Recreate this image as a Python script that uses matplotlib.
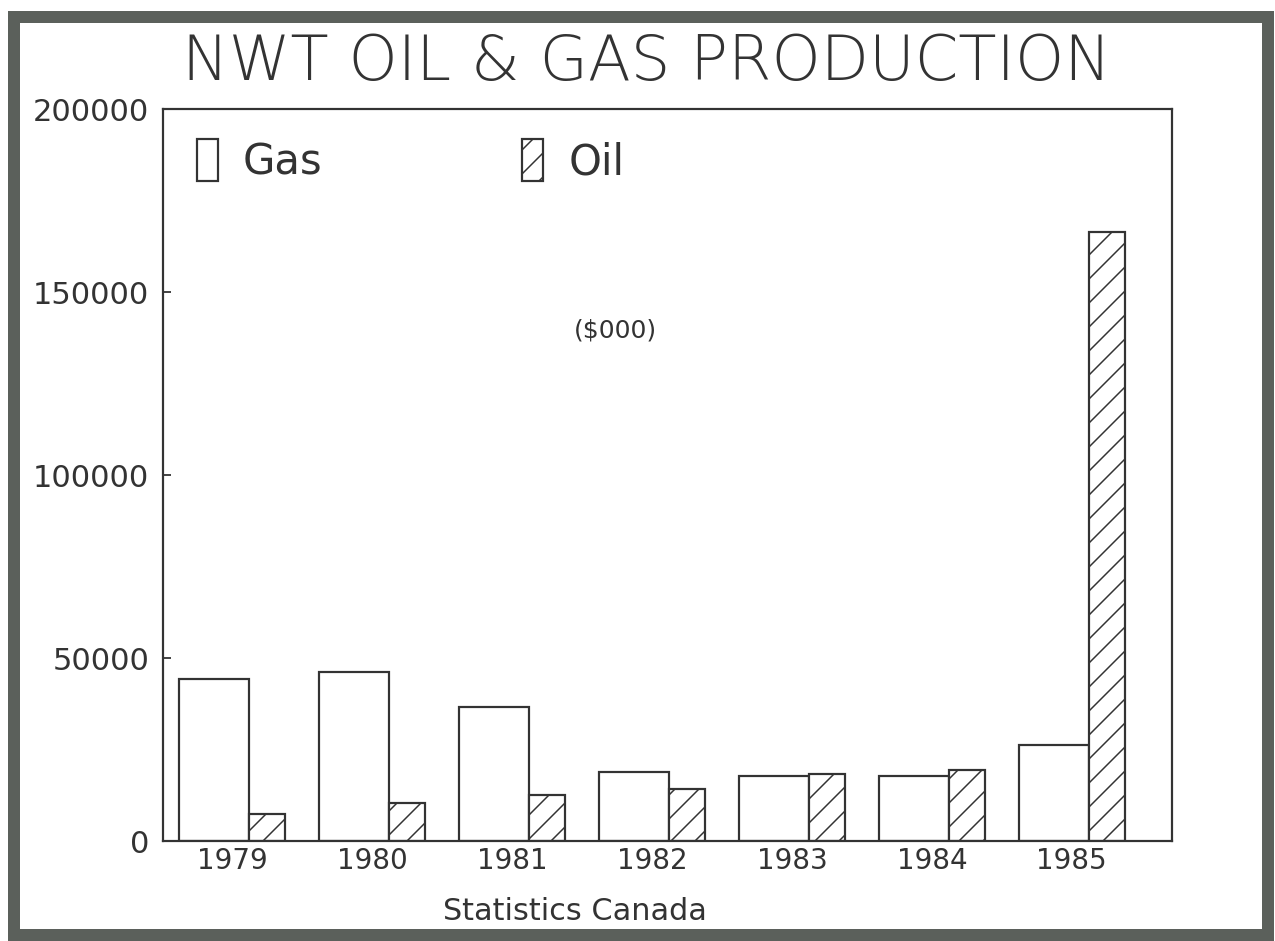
import numpy as np
import matplotlib
matplotlib.use("Agg")
import matplotlib.pyplot as plt
from matplotlib.patches import Rectangle

# values in $000
years = ["1979", "1980", "1981", "1982", "1983", "1984", "1985"]
gas = [44300, 46200, 36600, 18900, 17800, 17800, 26200]
oil = [7400, 10400, 12600, 14200, 18300, 19400, 166400]
yticks = [0, 50000, 100000, 150000, 200000]

# at 72 dpi one point is one pixel, and the hatch spacing comes out closer
DPI = 72
ink = "#333333"
plt.rcParams["font.family"] = ["DejaVu Sans"]
plt.rcParams["hatch.linewidth"] = 1.5
plt.rcParams["hatch.color"] = ink

fig = plt.figure(figsize=(1275 / DPI, 941 / DPI), dpi=DPI)
ax = fig.add_axes([0.128, 0.106, 0.791, 0.778])

x = np.arange(len(years))
gas_w = 0.5
oil_w = 0.257
ax.bar(x - 0.379, gas, width=gas_w, align="edge", facecolor="white",
       edgecolor=ink, linewidth=2.2, label="Gas")
ax.bar(x + 0.121, oil, width=oil_w, align="edge", facecolor="white",
       edgecolor=ink, linewidth=2.2, hatch="/", label="Oil")

ax.set_xlim(-0.493, 6.714)
ax.set_ylim(0, 200000)
ax.set_yticks(yticks)
ax.set_yticklabels([str(v) for v in yticks], fontsize=30.5, color=ink)
ax.set_xticks(x)
ax.set_xticklabels(years, fontsize=27.8, color=ink)
ax.tick_params(axis="y", direction="in", length=8, width=1.8, color=ink, pad=14)
ax.tick_params(axis="x", length=0, pad=6)
for s in ax.spines.values():
    s.set_color(ink)
    s.set_linewidth(2.2)

ax.legend(ncol=2, loc="upper left", bbox_to_anchor=(-0.004, 1.01),
          frameon=False, fontsize=41.7, handlelength=0.5, handleheight=1.15,
          handletextpad=0.6, columnspacing=4.8, labelcolor=ink)

ax.text(0.448, 0.698, "($000)", transform=ax.transAxes, ha="center",
        va="center", fontsize=25, color=ink)

fig.text(0.507, 0.933, "NWT OIL & GAS PRODUCTION", ha="center", va="center",
         fontsize=62.5, color=ink, fontweight="light")
fig.text(0.451, 0.031, "Statistics Canada", ha="center", va="center",
         fontsize=30.3, color=ink)

# scanned page frame
fig.patches.append(Rectangle((0.011, 0.0064), 0.9835, 0.9756,
                             transform=fig.transFigure, fill=False,
                             edgecolor="#5b605b", linewidth=12))

fig.savefig("out.png", dpi=DPI)
